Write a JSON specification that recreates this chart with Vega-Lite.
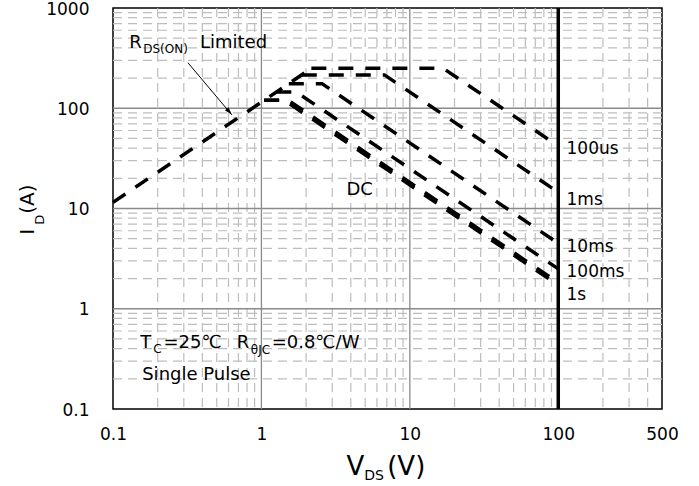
{
  "$schema": "https://vega.github.io/schema/vega-lite/v6.json",
  "width": 549,
  "height": 401,
  "autosize": {"type": "none"},
  "padding": {"left": 113, "top": 8, "right": 37, "bottom": 77},
  "background": "white",
  "config": {
    "font": "DejaVu Sans",
    "view": {"stroke": "black", "strokeWidth": 1.5},
    "text": {"font": "DejaVu Sans", "color": "black"},
    "axis": {
      "title": null, "labelFont": "DejaVu Sans", "labelFontSize": 17, "labelColor": "black",
      "labelOverlap": false, "ticks": false, "tickSize": 0, "domain": false, "grid": false, "format": "~g"
    },
    "axisX": {"labelPadding": 17, "labelFlush": false},
    "axisY": {"labelPadding": 24, "labelOffset": 1}
  },
  "encoding": {
    "x": {
      "field": "v", "type": "quantitative",
      "scale": {"type": "log", "domain": [0.1, 500], "nice": false, "zero": false},
      "axis": {"values": [0.1, 1, 10, 100, 500]}
    }
  },
  "datasets": {
    "minorx": [
      {"v": 0.2}, {"v": 0.3}, {"v": 0.4}, {"v": 0.5}, {"v": 0.6}, {"v": 0.7}, {"v": 0.8}, {"v": 0.9},
      {"v": 2}, {"v": 3}, {"v": 4}, {"v": 5}, {"v": 6}, {"v": 7}, {"v": 8}, {"v": 9},
      {"v": 20}, {"v": 30}, {"v": 40}, {"v": 50}, {"v": 60}, {"v": 70}, {"v": 80}, {"v": 90},
      {"v": 200}, {"v": 300}, {"v": 400}
    ],
    "minory": [
      {"i": 0.2}, {"i": 0.3}, {"i": 0.4}, {"i": 0.5}, {"i": 0.6}, {"i": 0.7}, {"i": 0.8}, {"i": 0.9},
      {"i": 2}, {"i": 3}, {"i": 4}, {"i": 5}, {"i": 6}, {"i": 7}, {"i": 8}, {"i": 9},
      {"i": 20}, {"i": 30}, {"i": 40}, {"i": 50}, {"i": 60}, {"i": 70}, {"i": 80}, {"i": 90},
      {"i": 200}, {"i": 300}, {"i": 400}, {"i": 500}, {"i": 600}, {"i": 700}, {"i": 800}, {"i": 900}
    ],
    "majorx": [{"v": 1}, {"v": 10}],
    "majory": [{"i": 1}, {"i": 10}, {"i": 100}],
    "limit": [{"v": 100}],
    "curves": [
      {"series": "RDS", "v": 0.1, "i": 11.5},
      {"series": "RDS", "v": 2.17, "i": 250},
      {"series": "DC", "v": 1.043, "i": 120},
      {"series": "DC", "v": 1.43, "i": 120},
      {"series": "DC", "v": 100, "i": 1.72},
      {"series": "1s", "v": 1.043, "i": 120},
      {"series": "1s", "v": 1.52, "i": 120},
      {"series": "1s", "v": 100, "i": 1.82},
      {"series": "100ms", "v": 1.26, "i": 145},
      {"series": "100ms", "v": 1.72, "i": 145},
      {"series": "100ms", "v": 100, "i": 2.5},
      {"series": "10ms", "v": 1.53, "i": 176},
      {"series": "10ms", "v": 2.56, "i": 176},
      {"series": "10ms", "v": 100, "i": 4.5},
      {"series": "1ms", "v": 1.87, "i": 215},
      {"series": "1ms", "v": 6.74, "i": 215},
      {"series": "1ms", "v": 100, "i": 14.5},
      {"series": "100us", "v": 2.17, "i": 250},
      {"series": "100us", "v": 16.8, "i": 250},
      {"series": "100us", "v": 100, "i": 42}
    ],
    "arrow": [{"v": 0.32, "i": 284}, {"v": 0.632, "i": 86}],
    "arrowhead": [{"v": 0.632, "i": 86}],
    "notes": [
      {"kind": "main", "t": "R", "v": 0.1286, "i": 401},
      {"kind": "main", "t": "Limited", "v": 0.3855, "i": 401},
      {"kind": "main", "t": "DC", "v": 3.74, "i": 13.7},
      {"kind": "main", "t": "T", "v": 0.1525, "i": 0.408},
      {"kind": "main", "t": "=25℃", "v": 0.2186, "i": 0.408},
      {"kind": "main", "t": "R", "v": 0.683, "i": 0.408},
      {"kind": "main", "t": "=0.8℃/W", "v": 1.172, "i": 0.408},
      {"kind": "main", "t": "Single Pulse", "v": 0.1573, "i": 0.1957},
      {"kind": "label", "t": "100us", "v": 113.7, "i": 35.2},
      {"kind": "label", "t": "1ms", "v": 113.7, "i": 10.9},
      {"kind": "label", "t": "10ms", "v": 113.7, "i": 3.7},
      {"kind": "label", "t": "100ms", "v": 113.7, "i": 2.085},
      {"kind": "label", "t": "1s", "v": 113.7, "i": 1.23},
      {"kind": "sub", "t": "DS(ON)", "v": 0.1597, "i": 357.8},
      {"kind": "sub", "t": "C", "v": 0.1865, "i": 0.364},
      {"kind": "sub", "t": "θJC", "v": 0.848, "i": 0.356},
      {"kind": "xt", "t": "V", "v": 3.74, "i": 0.0221},
      {"kind": "xt", "t": "(V)", "v": 7.04, "i": 0.0221},
      {"kind": "xts", "t": "DS", "v": 4.93, "i": 0.0197},
      {"kind": "yt", "t": "I", "v": 0.0292, "i": 5.47},
      {"kind": "yt", "t": "(A)", "v": 0.0292, "i": 8.86},
      {"kind": "yts", "t": "D", "v": 0.0345, "i": 6.88}
    ]
  },
  "layer": [
    {
      "data": {"name": "minorx"},
      "mark": {"type": "rule", "color": "#bdbdbd", "strokeWidth": 1.2, "strokeDash": [9, 6]}
    },
    {
      "data": {"name": "minory"},
      "mark": {"type": "rule", "color": "#bdbdbd", "strokeWidth": 1.2, "strokeDash": [9, 6]},
      "encoding": {
        "x": null,
        "y": {
          "field": "i", "type": "quantitative",
          "scale": {"type": "log", "domain": [0.1, 1000], "nice": false, "zero": false},
          "axis": {"values": [0.1, 1, 10, 100, 1000]}
        }
      }
    },
    {
      "data": {"name": "majorx"},
      "mark": {"type": "rule", "color": "#8a8a8a", "strokeWidth": 1.3}
    },
    {
      "data": {"name": "majory"},
      "mark": {"type": "rule", "color": "#8a8a8a", "strokeWidth": 1.3},
      "encoding": {
        "x": null,
        "y": {"field": "i", "type": "quantitative", "axis": {"values": [0.1, 1, 10, 100, 1000]}}
      }
    },
    {
      "data": {"name": "limit"},
      "mark": {"type": "rule", "color": "black", "strokeWidth": 3.5}
    },
    {
      "data": {"name": "curves"},
      "mark": {"type": "line", "color": "black", "strokeWidth": 3.5, "strokeDash": [15, 12], "strokeCap": "butt"},
      "encoding": {
        "y": {"field": "i", "type": "quantitative", "axis": {"values": [0.1, 1, 10, 100, 1000]}},
        "detail": {"field": "series"}
      }
    },
    {
      "data": {"name": "arrow"},
      "mark": {"type": "line", "color": "black", "strokeWidth": 1},
      "encoding": {
        "y": {"field": "i", "type": "quantitative", "axis": {"values": [0.1, 1, 10, 100, 1000]}}
      }
    },
    {
      "data": {"name": "arrowhead"},
      "mark": {"type": "point", "shape": "M0,0L0.35,1.2L-0.35,1.2Z", "filled": true, "color": "black", "opacity": 1, "size": 180, "angle": 140},
      "encoding": {
        "y": {"field": "i", "type": "quantitative", "axis": {"values": [0.1, 1, 10, 100, 1000]}}
      }
    },
    {
      "data": {"name": "notes"},
      "transform": [{"filter": "datum.kind === 'main'"}],
      "mark": {"type": "text", "align": "left", "baseline": "alphabetic", "fontSize": 18},
      "encoding": {
        "y": {"field": "i", "type": "quantitative", "axis": {"values": [0.1, 1, 10, 100, 1000]}},
        "text": {"field": "t"}
      }
    },
    {
      "data": {"name": "notes"},
      "transform": [{"filter": "datum.kind === 'label'"}],
      "mark": {"type": "text", "align": "left", "baseline": "alphabetic", "fontSize": 17},
      "encoding": {
        "y": {"field": "i", "type": "quantitative", "axis": {"values": [0.1, 1, 10, 100, 1000]}},
        "text": {"field": "t"}
      }
    },
    {
      "data": {"name": "notes"},
      "transform": [{"filter": "datum.kind === 'sub'"}],
      "mark": {"type": "text", "align": "left", "baseline": "alphabetic", "fontSize": 12},
      "encoding": {
        "y": {"field": "i", "type": "quantitative", "axis": {"values": [0.1, 1, 10, 100, 1000]}},
        "text": {"field": "t"}
      }
    },
    {
      "data": {"name": "notes"},
      "transform": [{"filter": "datum.kind === 'xt'"}],
      "mark": {"type": "text", "align": "left", "baseline": "alphabetic", "fontSize": 26},
      "encoding": {
        "y": {"field": "i", "type": "quantitative", "axis": {"values": [0.1, 1, 10, 100, 1000]}},
        "text": {"field": "t"}
      }
    },
    {
      "data": {"name": "notes"},
      "transform": [{"filter": "datum.kind === 'xts'"}],
      "mark": {"type": "text", "align": "left", "baseline": "alphabetic", "fontSize": 14},
      "encoding": {
        "y": {"field": "i", "type": "quantitative", "axis": {"values": [0.1, 1, 10, 100, 1000]}},
        "text": {"field": "t"}
      }
    },
    {
      "data": {"name": "notes"},
      "transform": [{"filter": "datum.kind === 'yt'"}],
      "mark": {"type": "text", "align": "left", "baseline": "alphabetic", "fontSize": 20, "angle": 270},
      "encoding": {
        "y": {"field": "i", "type": "quantitative", "axis": {"values": [0.1, 1, 10, 100, 1000]}},
        "text": {"field": "t"}
      }
    },
    {
      "data": {"name": "notes"},
      "transform": [{"filter": "datum.kind === 'yts'"}],
      "mark": {"type": "text", "align": "left", "baseline": "alphabetic", "fontSize": 13, "angle": 270},
      "encoding": {
        "y": {"field": "i", "type": "quantitative", "axis": {"values": [0.1, 1, 10, 100, 1000]}},
        "text": {"field": "t"}
      }
    }
  ]
}
